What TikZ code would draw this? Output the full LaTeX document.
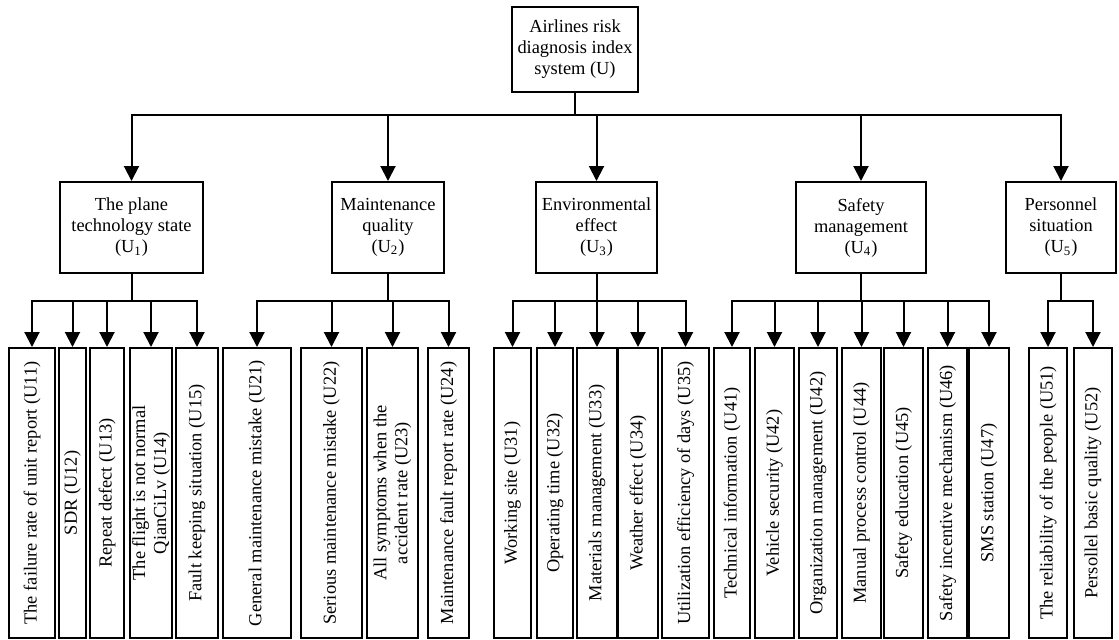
\documentclass[tikz,border=0pt]{standalone}
\usepackage{fontspec}
\setmainfont{Liberation Serif}
\usetikzlibrary{arrows.meta, positioning}

\begin{document}
\begin{tikzpicture}[
        x=0.5pt, y=0.5pt,
        font=\fontsize{9.2}{10.5}\selectfont,
        % Root box
        rootbox/.style={
                rectangle,
                draw,
                line width=1pt,
                minimum width=63pt,
                minimum height=42.5pt,
                align=center,
                inner sep=1pt
            },
        % Criterion boxes
        critbox/.style={
                rectangle,
                draw,
                line width=1pt,
                minimum height=45.5pt,
                align=center,
                inner sep=1pt
            },
        % Index boxes (vertical text)
        leafbox/.style={
                rectangle,
                draw,
                line width=1pt,
                rotate=90,
                minimum width=145pt,
                align=center,
                inner sep=1pt
            },
        % Arrows
        arrow/.style={
                -{Triangle[width=7.5pt,length=7.5pt]},
                line width=1pt
            }
    ]

    \useasboundingbox (0,0) rectangle (1119,-639);

    % Root
    \node[rootbox] (root) at (575,-49.5) {Airlines risk\\diagnosis index\\system (U)};

    % Criteria
    \node[critbox, minimum width=71.5pt, below=44pt of root, xshift=-221.75pt] (u1) {The plane\\technology state\\(U\textsubscript{1})};
    \node[critbox, minimum width=56pt, below=44pt of root, xshift=-93.5pt] (u2) {Maintenance\\quality\\(U\textsubscript{2})};
    \node[critbox, minimum width=60.5pt, below=44pt of root, xshift=10.75pt] (u3) {Environmental\\effect\\(U\textsubscript{3})};
    \node[critbox, minimum width=65pt, below=44pt of root, xshift=143pt] (u4) {Safety\\management\\(U\textsubscript{4})};
    \node[critbox, minimum width=55pt, below=44pt of root, xshift=243pt] (u5) {Personnel\\situation\\(U\textsubscript{5})};

    % Indexes
    \node[leafbox, minimum height=23pt] (u11) at (32,-493) {The failure rate of unit report (U11)};
    \node[leafbox, minimum height=13.5pt] (u12) at (72.5,-493) {SDR (U12)};
    \node[leafbox, minimum height=17pt] (u13) at (107,-493) {Repeat defect (U13)};
    \node[leafbox, minimum height=21pt] (u14) at (151,-493) {The flight is not normal\\QianCiLv (U14)};
    \node[leafbox, minimum height=21pt] (u15) at (197,-493) {Fault keeping situation (U15)};

    \node[leafbox, minimum height=34pt] (u21) at (257,-493) {General maintenance mistake (U21)};
    \node[leafbox, minimum height=30.5pt] (u22) at (331.5,-493) {Serious maintenance mistake (U22)};
    \node[leafbox, minimum height=25.5pt] (u23) at (392.5,-493) {All symptoms when the\\accident rate (U23)};
    \node[leafbox, minimum height=20.5pt] (u24) at (448.5,-493) {Maintenance fault report rate (U24)};

    \node[leafbox, minimum height=18.5pt] (u31) at (512.5,-493) {Working site (U31)};
    \node[leafbox, minimum height=18pt] (u32) at (555,-493) {Operating time (U32)};
    \node[leafbox, minimum height=20pt] (u33) at (597,-493) {Materials management (U33)};
    \node[leafbox, minimum height=20pt] (u34) at (638,-493) {Weather effect (U34)};
    \node[leafbox, minimum height=23.5pt] (u35) at (685.5,-493) {Utilization efficiency of days (U35)};

    \node[leafbox, minimum height=18pt] (u41) at (732,-493) {Technical information (U41)};
    \node[leafbox, minimum height=19.5pt] (u42) at (774.5,-493) {Vehicle security (U42)};
    \node[leafbox, minimum height=19pt] (u43) at (818,-493) {Organization management (U42)};
    \node[leafbox, minimum height=19.5pt] (u44) at (861.5,-493) {Manual process control (U44)};
    \node[leafbox, minimum height=19.5pt] (u45) at (903.5,-493) {Safety education (U45)};
    \node[leafbox, minimum height=19.5pt] (u46) at (947.5,-493) {Safety incentive mechanism (U46)};
    \node[leafbox, minimum height=20pt] (u47) at (989,-493) {SMS station (U47)};

    \node[leafbox, minimum height=19pt] (u51) at (1048,-493) {The reliability of the people (U51)};
    \node[leafbox, minimum height=19pt] (u52) at (1093,-493) {Persollel basic quality (U52)};

    % Root to criteria
    \draw[arrow] (root.south) -- ++(0,-22) -| (u1.north);
    \draw[arrow] (root.south) -- ++(0,-22) -| (u2.north);
    \draw[arrow] (root.south) -- ++(0,-22) -| (u3.north);
    \draw[arrow] (root.south) -- ++(0,-22) -| (u4.north);
    \draw[arrow] (root.south) -- ++(0,-22) -| (u5.north);

    % Criteria to indexes
    \draw[arrow] (u1.south) -- ++(0,-27) -| (u11.east);
    \draw[arrow] (u1.south) -- ++(0,-27) -| (u12.east);
    \draw[arrow] (u1.south) -- ++(0,-27) -| (u13.east);
    \draw[arrow] (u1.south) -- ++(0,-27) -| (u14.east);
    \draw[arrow] (u1.south) -- ++(0,-27) -| (u15.east);

    \draw[arrow] (u2.south) -- ++(0,-27) -| (u21.east);
    \draw[arrow] (u2.south) -- ++(0,-27) -| (u22.east);
    \draw[arrow] (u2.south) -- ++(0,-27) -| (u23.east);
    \draw[arrow] (u2.south) -- ++(0,-27) -| (u24.east);

    \draw[arrow] (u3.south) -- ++(0,-27) -| (u31.east);
    \draw[arrow] (u3.south) -- ++(0,-27) -| (u32.east);
    \draw[arrow] (u3.south) -- ++(0,-27) -| (u33.east);
    \draw[arrow] (u3.south) -- ++(0,-27) -| (u34.east);
    \draw[arrow] (u3.south) -- ++(0,-27) -| (u35.east);

    \draw[arrow] (u4.south) -- ++(0,-27) -| (u41.east);
    \draw[arrow] (u4.south) -- ++(0,-27) -| (u42.east);
    \draw[arrow] (u4.south) -- ++(0,-27) -| (u43.east);
    \draw[arrow] (u4.south) -- ++(0,-27) -| (u44.east);
    \draw[arrow] (u4.south) -- ++(0,-27) -| (u45.east);
    \draw[arrow] (u4.south) -- ++(0,-27) -| (u46.east);
    \draw[arrow] (u4.south) -- ++(0,-27) -| (u47.east);

    \draw[arrow] (u5.south) -- ++(0,-27) -| (u51.east);
    \draw[arrow] (u5.south) -- ++(0,-27) -| (u52.east);

\end{tikzpicture}
\end{document}
